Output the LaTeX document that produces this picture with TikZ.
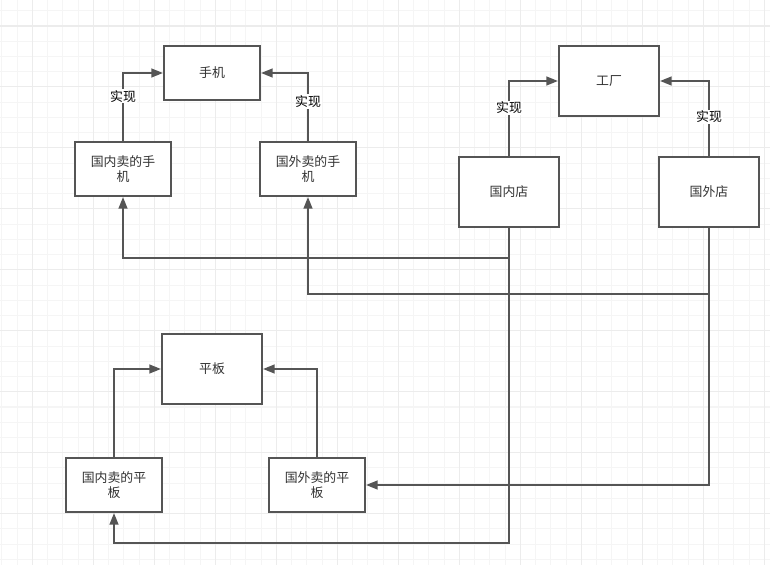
\documentclass[tikz,border=0pt]{standalone}
\usepackage{fontspec}
\newfontfamily\cjk{Noto Sans CJK SC}
\usetikzlibrary{arrows.meta}
\definecolor{linec}{RGB}{85,85,85}
\definecolor{gridminor}{RGB}{245,245,245}
\definecolor{gridmajor}{RGB}{236,236,236}

\begin{document}
\begin{tikzpicture}[x=0.03cm, y=-0.03cm,
  box/.style={draw=linec, line width=0.06cm, fill=white, minimum width=2.88cm,
    minimum height=1.62cm, inner sep=1pt, align=center, text=black!80,
    font=\cjk\fontsize{11}{13}\selectfont},
  bigbox/.style={box, minimum width=3cm, minimum height=2.1cm},
  arr/.style={draw=linec, line width=0.06cm, -{Triangle[length=10pt,width=7.5pt]}},
  lbl/.style={fill=white, inner sep=1pt, text=black, font=\cjk\fontsize{11}{13}\selectfont}]

  % 背景网格
  \useasboundingbox (0,0) rectangle (770,565);
  \fill[white] (0,0) rectangle (770,565);
  \foreach \k in {0,...,50}
    \draw[gridminor, line width=0.9pt] (1.8+15.25*\k,0) -- (1.8+15.25*\k,565);
  \foreach \k in {0,...,36}
    \draw[gridminor, line width=0.9pt] (0,10.76+15.24*\k) -- (770,10.76+15.24*\k);
  \foreach \k in {2,6,...,50}
    \draw[gridmajor, line width=0.9pt] (1.8+15.25*\k,0) -- (1.8+15.25*\k,565);
  \foreach \k in {1,5,...,33}
    \draw[gridmajor, line width=0.9pt] (0,10.76+15.24*\k) -- (770,10.76+15.24*\k);

  % 手机
  \node[box] (sj) at (212,73) {手机};
  \node[box] (gnsj) at (123,169) {国内卖的手\\机};
  \node[box] (gwsj) at (308,169) {国外卖的手\\机};

  % 工厂
  \node[bigbox] (gc) at (609,81) {工厂};
  \node[bigbox] (gnd) at (509,192) {国内店};
  \node[bigbox] (gwd) at (709,192) {国外店};

  % 平板
  \node[bigbox] (pb) at (212,369) {平板};
  \node[box] (gnpb) at (114,485) {国内卖的平\\板};
  \node[box] (gwpb) at (317,485) {国外卖的平\\板};

  % 实现
  \draw[arr] (gnsj.north) |- node[lbl, pos=0.33] (sx1) {实现} (sj.west);
  \draw[arr] (gwsj.north) |- node[lbl, pos=0.29] (sx2) {实现} (sj.east);
  \draw[arr] (gnd.north) |- node[lbl, pos=0.32] (sx3) {实现} (gc.west);
  \draw[arr] (gwd.north) |- node[lbl, pos=0.26] (sx4) {实现} (gc.east);
  \draw[arr] (gnpb.north) |- (pb.west);
  \draw[arr] (gwpb.north) |- (pb.east);

  % 店到产品
  \draw[arr] (gnd.south) -- ++(0,30) -| (gnsj.south);
  \draw[arr] (gwd.south) -- ++(0,66) -| (gwsj.south);
  \draw[arr] (gnd.south) -- ++(0,315) -| (gnpb.south);
  \draw[arr] (gwd.south) |- (gwpb.east);
\end{tikzpicture}
\end{document}
